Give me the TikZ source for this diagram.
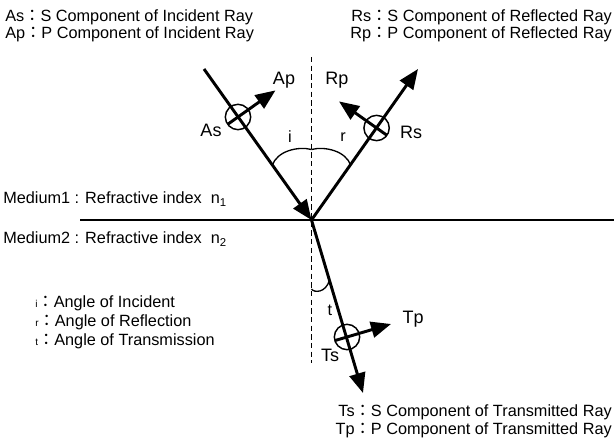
\documentclass[tikz,border=0pt]{standalone}
\usepackage{fontspec}
\setmainfont{Liberation Sans}
\newfontfamily\cjkfont{Noto Sans CJK JP}
\usetikzlibrary{arrows.meta,calc}
\newcommand{\fwc}{{\cjkfont ：}}
\begin{document}
\begin{tikzpicture}[x=0.75pt,y=0.75pt,
  font=\fontsize{12.2}{14}\selectfont,
  ray/.style={line width=2.2pt,-{Triangle[length=15pt,width=12pt]}},
  pol/.style={line width=2.2pt,-{Triangle[length=15pt,width=12pt]}},
  ring/.style={circle,draw,line width=1.1pt,minimum size=19pt,inner sep=0pt},
  normal/.style={line width=0.9pt,dash pattern=on 4pt off 2.5pt},
  anglearc/.style={line width=1pt},
  lbl/.style={inner sep=0pt,font=\fontsize{13.5}{15}\selectfont},
  alb/.style={inner sep=0pt},
  txt/.style={inner sep=0pt,anchor=base west},
  txtr/.style={inner sep=0pt,anchor=base east}]
\useasboundingbox (0,0) rectangle (614,439);
% key points
\coordinate (O) at (311.5,219);
\coordinate (S1) at (204,370);
\coordinate (R1) at (418,370);
\coordinate (T1) at (363,46);
\coordinate (L1) at (80,219);
\coordinate (L2) at (614,219);
\coordinate (N1) at (311.5,382);
\coordinate (N2) at (311.5,76);
% interface and normal
\draw[line width=2.2pt] (L1) -- (L2);
\draw[normal] (N1) -- (N2);
% rays
\draw[ray] (S1) -- (O);
\draw[ray] (O) -- (R1);
\draw[ray] (O) -- (T1);
% polarization circles
\node[ring] (cA) at (238,322) {};
\node[ring] (cR) at (376.6,311) {};
\node[ring] (cT) at (347,102) {};
\coordinate (tipA) at (275.5,348.6);
\coordinate (tipR) at (339,337.6);
\coordinate (tipT) at (391,115);
\draw[pol] ($(cA.center)!-0.27!(tipA)$) -- (tipA);
\draw[pol] ($(cR.center)!-0.27!(tipR)$) -- (tipR);
\draw[pol] ($(cT.center)!-0.28!(tipT)$) -- (tipT);
% angle arcs (brace-like)
\coordinate (aiR) at (272.2,273.5);
\coordinate (arR) at (350.8,273.5);
\coordinate (aN) at (311.5,289.5);
\coordinate (atN) at (311.5,150);
\coordinate (atR) at (329.5,159);
\draw[anglearc] (aiR) .. controls (277,288) and (298,293) .. (aN);
\draw[anglearc] (arR) .. controls (346,288) and (325,293) .. (aN);
\draw[anglearc] (atN) .. controls (314,146) and (326,146) .. (atR);
% labels
\node[alb] (li) at (290,302) {i};
\node[alb] (lr) at (343,302) {r};
\node[alb] (lt) at (330,129) {t};
\node[lbl] (lAp) at (284,359) {Ap};
\node[lbl] (lAs) at (211,309) {As};
\node[lbl] (lRp) at (337,359) {Rp};
\node[lbl] (lRs) at (411,307) {Rs};
\node[lbl] (lTp) at (413,120) {Tp};
\node[lbl] (lTs) at (330,84) {Ts};
% text blocks
\node[txt] (t1) at (5,417.5) {As\fwc S Component of Incident Ray};
\node[txt] (t2) at (5,400) {Ap\fwc P Component of Incident Ray};
\node[txtr] (t3) at (612,417.5) {Rs\fwc S Component of Reflected Ray};
\node[txtr] (t4) at (612,400) {Rp\fwc P Component of Reflected Ray};
\node[txt] (m1) at (3,235) {Medium1 : Refractive index\ \ n\textsubscript{1}};
\node[txt] (m2) at (3,195) {Medium2 : Refractive index\ \ n\textsubscript{2}};
\node[txt] (g1) at (35,131) {{\fontsize{7.5}{8}\selectfont i}\fwc Angle of Incident};
\node[txt] (g2) at (35,112) {{\fontsize{7.5}{8}\selectfont r}\fwc Angle of Reflection};
\node[txt] (g3) at (35,93) {{\fontsize{7.5}{8}\selectfont t}\fwc Angle of Transmission};
\node[txtr] (b1) at (612,22) {Ts\fwc S Component of Transmitted Ray};
\node[txtr] (b2) at (612,4.5) {Tp\fwc P Component of Transmitted Ray};
\end{tikzpicture}
\end{document}
